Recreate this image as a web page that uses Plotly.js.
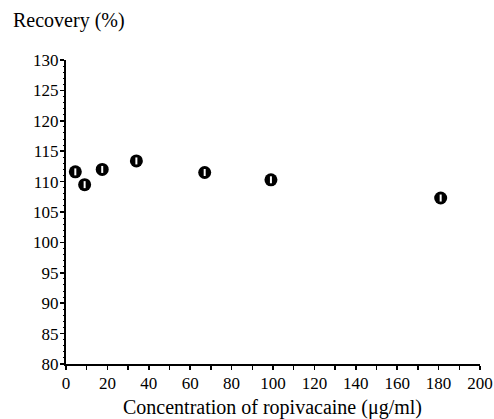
<!DOCTYPE html>
<html>
<head>
<meta charset="utf-8">
<script src="https://cdn.plot.ly/plotly-3.0.1.min.js"></script>
<style>html,body{margin:0;padding:0;background:#fff;}#chart{width:494px;height:419px;}</style>
</head>
<body>
<div id="chart"></div>
<script>
// Data
const concentration = [4.5, 9, 17.5, 34, 67, 99, 181];
const recovery = [111.6, 109.5, 112.0, 113.4, 111.5, 110.3, 107.3];
const xTickVals = [0, 20, 40, 60, 80, 100, 120, 140, 160, 180, 200];
const yTickVals = [80, 85, 90, 95, 100, 105, 110, 115, 120, 125, 130];
const yTitle = "Recovery (%)";
const xTitle = "Concentration of ropivacaine (μg/ml)";

const serif = "Liberation Serif, Times New Roman, serif";
const plotH = 304, plotW = 414, mL = 66, mT = 60;

const dots = {
  x: concentration,
  y: recovery,
  type: "scatter",
  mode: "markers",
  marker: { color: "#000", size: 13, line: { width: 0 } },
  hoverinfo: "skip"
};
// small white highlight inside each dot (as in the printed symbol)
const highlight = {
  x: concentration,
  y: recovery,
  type: "scatter",
  mode: "markers",
  marker: { symbol: "line-ns", size: 5, color: "#fff", line: { color: "#fff", width: 2 } },
  hoverinfo: "skip"
};

const layout = {
  width: 494,
  height: 419,
  margin: { l: mL, r: 494 - mL - plotW, t: mT, b: 419 - mT - plotH },
  paper_bgcolor: "#fff",
  plot_bgcolor: "#fff",
  showlegend: false,
  font: { family: serif, size: 17, color: "#000" },
  xaxis: {
    range: [0, 200],
    tickmode: "array",
    tickvals: xTickVals,
    ticks: "outside",
    ticklen: 4,
    tickwidth: 1.5,
    tickcolor: "#000",
    showline: true,
    linecolor: "#000",
    linewidth: 2,
    showgrid: false,
    zeroline: false,
    minor: { dtick: 10, tick0: 0, ticks: "outside", ticklen: 4, tickwidth: 1.5, tickcolor: "#000", showgrid: false },
    tickfont: { family: serif, size: 17, color: "#000" },
    ticklabelstandoff: -1,
    fixedrange: true
  },
  yaxis: {
    range: [80, 130],
    tickmode: "array",
    tickvals: yTickVals,
    ticks: "outside",
    ticklen: 4,
    tickwidth: 1.5,
    tickcolor: "#000",
    showline: true,
    linecolor: "#000",
    linewidth: 2,
    showgrid: false,
    zeroline: false,
    minor: { dtick: 1, tick0: 80, ticks: "outside", ticklen: 1.5, tickwidth: 1, tickcolor: "#000", showgrid: false },
    tickfont: { family: serif, size: 17, color: "#000" },
    ticklabelstandoff: -2,
    fixedrange: true
  },
  annotations: [
    {
      text: yTitle, xref: "paper", yref: "paper",
      x: (11 - mL) / plotW, y: 1 + (mT - 21) / plotH, xanchor: "left", yanchor: "middle",
      showarrow: false, font: { family: serif, size: 20, color: "#000" }
    },
    {
      text: xTitle, xref: "paper", yref: "paper",
      x: (272 - mL) / plotW, y: -(407 - mT - plotH) / plotH, xanchor: "center", yanchor: "middle",
      showarrow: false, font: { family: serif, size: 20, color: "#000" }
    }
  ]
};

Plotly.newPlot("chart", [dots, highlight], layout, { displayModeBar: false, staticPlot: true });
</script>
</body>
</html>
